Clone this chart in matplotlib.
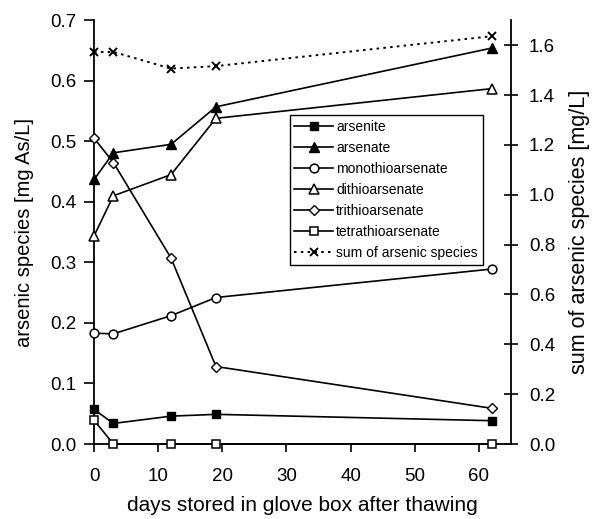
import matplotlib
matplotlib.use("Agg")
import matplotlib.pyplot as plt

plt.rcParams['font.family'] = ['Liberation Sans', 'DejaVu Sans']

days = [0, 3, 12, 19, 62]
arsenite = [0.057, 0.034, 0.046, 0.049, 0.0385]
arsenate = [0.437, 0.481, 0.495, 0.557, 0.654]
monothioarsenate = [0.183, 0.182, 0.212, 0.242, 0.289]
dithioarsenate = [0.344, 0.410, 0.445, 0.538, 0.587]
trithioarsenate = [0.505, 0.465, 0.307, 0.128, 0.059]
tetrathioarsenate = [0.039, 0.0, 0.0, 0.0, 0.0]
sum_species = [1.572, 1.573, 1.506, 1.516, 1.636]

x_ticks = [0, 10, 20, 30, 40, 50, 60]
left_ticks = [0.0, 0.1, 0.2, 0.3, 0.4, 0.5, 0.6, 0.7]
right_ticks = [0.0, 0.2, 0.4, 0.6, 0.8, 1.0, 1.2, 1.4, 1.6]

fig = plt.figure(figsize=(5.92, 5.19), dpi=100)
ax = fig.add_axes([0.159, 0.1445, 0.704, 0.8165])
ax2 = ax.twinx()

lw = 1.2
common = dict(color='black', lw=lw, clip_on=False, zorder=3)
h1, = ax.plot(days, arsenite, marker='s', ms=6, mfc='black', mec='black', label='arsenite', **common)
h2, = ax.plot(days, arsenate, marker='^', ms=6.8, mfc='black', mec='black', label='arsenate', **common)
h3, = ax.plot(days, monothioarsenate, marker='o', ms=6.3, mfc='white', mec='black', mew=1.1, label='monothioarsenate', **common)
h4, = ax.plot(days, dithioarsenate, marker='^', ms=6.8, mfc='white', mec='black', mew=1.1, label='dithioarsenate', **common)
h5, = ax.plot(days, trithioarsenate, marker='D', ms=4.8, mfc='white', mec='black', mew=1.0, label='trithioarsenate', **common)
h6, = ax.plot(days, tetrathioarsenate, marker='s', ms=6.2, mfc='white', mec='black', mew=1.1, label='tetrathioarsenate', **common)
h7, = ax2.plot(days, sum_species, marker='x', ms=6.3, mew=1.4, color='black', lw=1.4,
               ls=(0, (1.3, 2.2)), label='sum of arsenic species', clip_on=False, zorder=3)

ax.set_xlim(0, 65)
ax.set_ylim(0, 0.7)
ax2.set_ylim(0, 1.7)
ax.set_xticks(x_ticks)
ax.set_yticks(left_ticks)
ax.set_yticklabels([f"{v:.1f}" for v in left_ticks])
ax2.set_yticks(right_ticks)
ax2.set_yticklabels([f"{v:.1f}" for v in right_ticks])

for a in (ax, ax2):
    a.spines['top'].set_visible(False)
    for s in a.spines.values():
        s.set_linewidth(1.3)
ax.spines['right'].set_visible(False)
ax2.spines['left'].set_visible(False)
ax2.spines['bottom'].set_visible(False)

ax.tick_params(axis='x', direction='out', length=6, width=1.2, labelsize=13.5, pad=11.5)
ax.tick_params(axis='y', direction='out', length=7, width=1.2, labelsize=13.5, pad=5.5)
ax2.tick_params(axis='y', direction='inout', length=10, width=1.2, labelsize=13.5, pad=8)

ax.set_xlabel('days stored in glove box after thawing', fontsize=15, labelpad=8)
ax.set_ylabel('arsenic species [mg As/L]', fontsize=14.5, labelpad=12)
ax2.set_ylabel('sum of arsenic species [mg/L]', fontsize=15.5, labelpad=10)

leg = ax2.legend(handles=[h1, h2, h3, h4, h5, h6, h7], loc='upper left',
                 bbox_to_anchor=(0.469, 0.776), fontsize=10, frameon=True, fancybox=False,
                 edgecolor='black', framealpha=1, borderaxespad=0, labelspacing=0.5,
                 handlelength=2.8, handletextpad=0.2, borderpad=0.35)
leg.get_frame().set_linewidth(1.0)

fig.savefig('out.png', dpi=100)
